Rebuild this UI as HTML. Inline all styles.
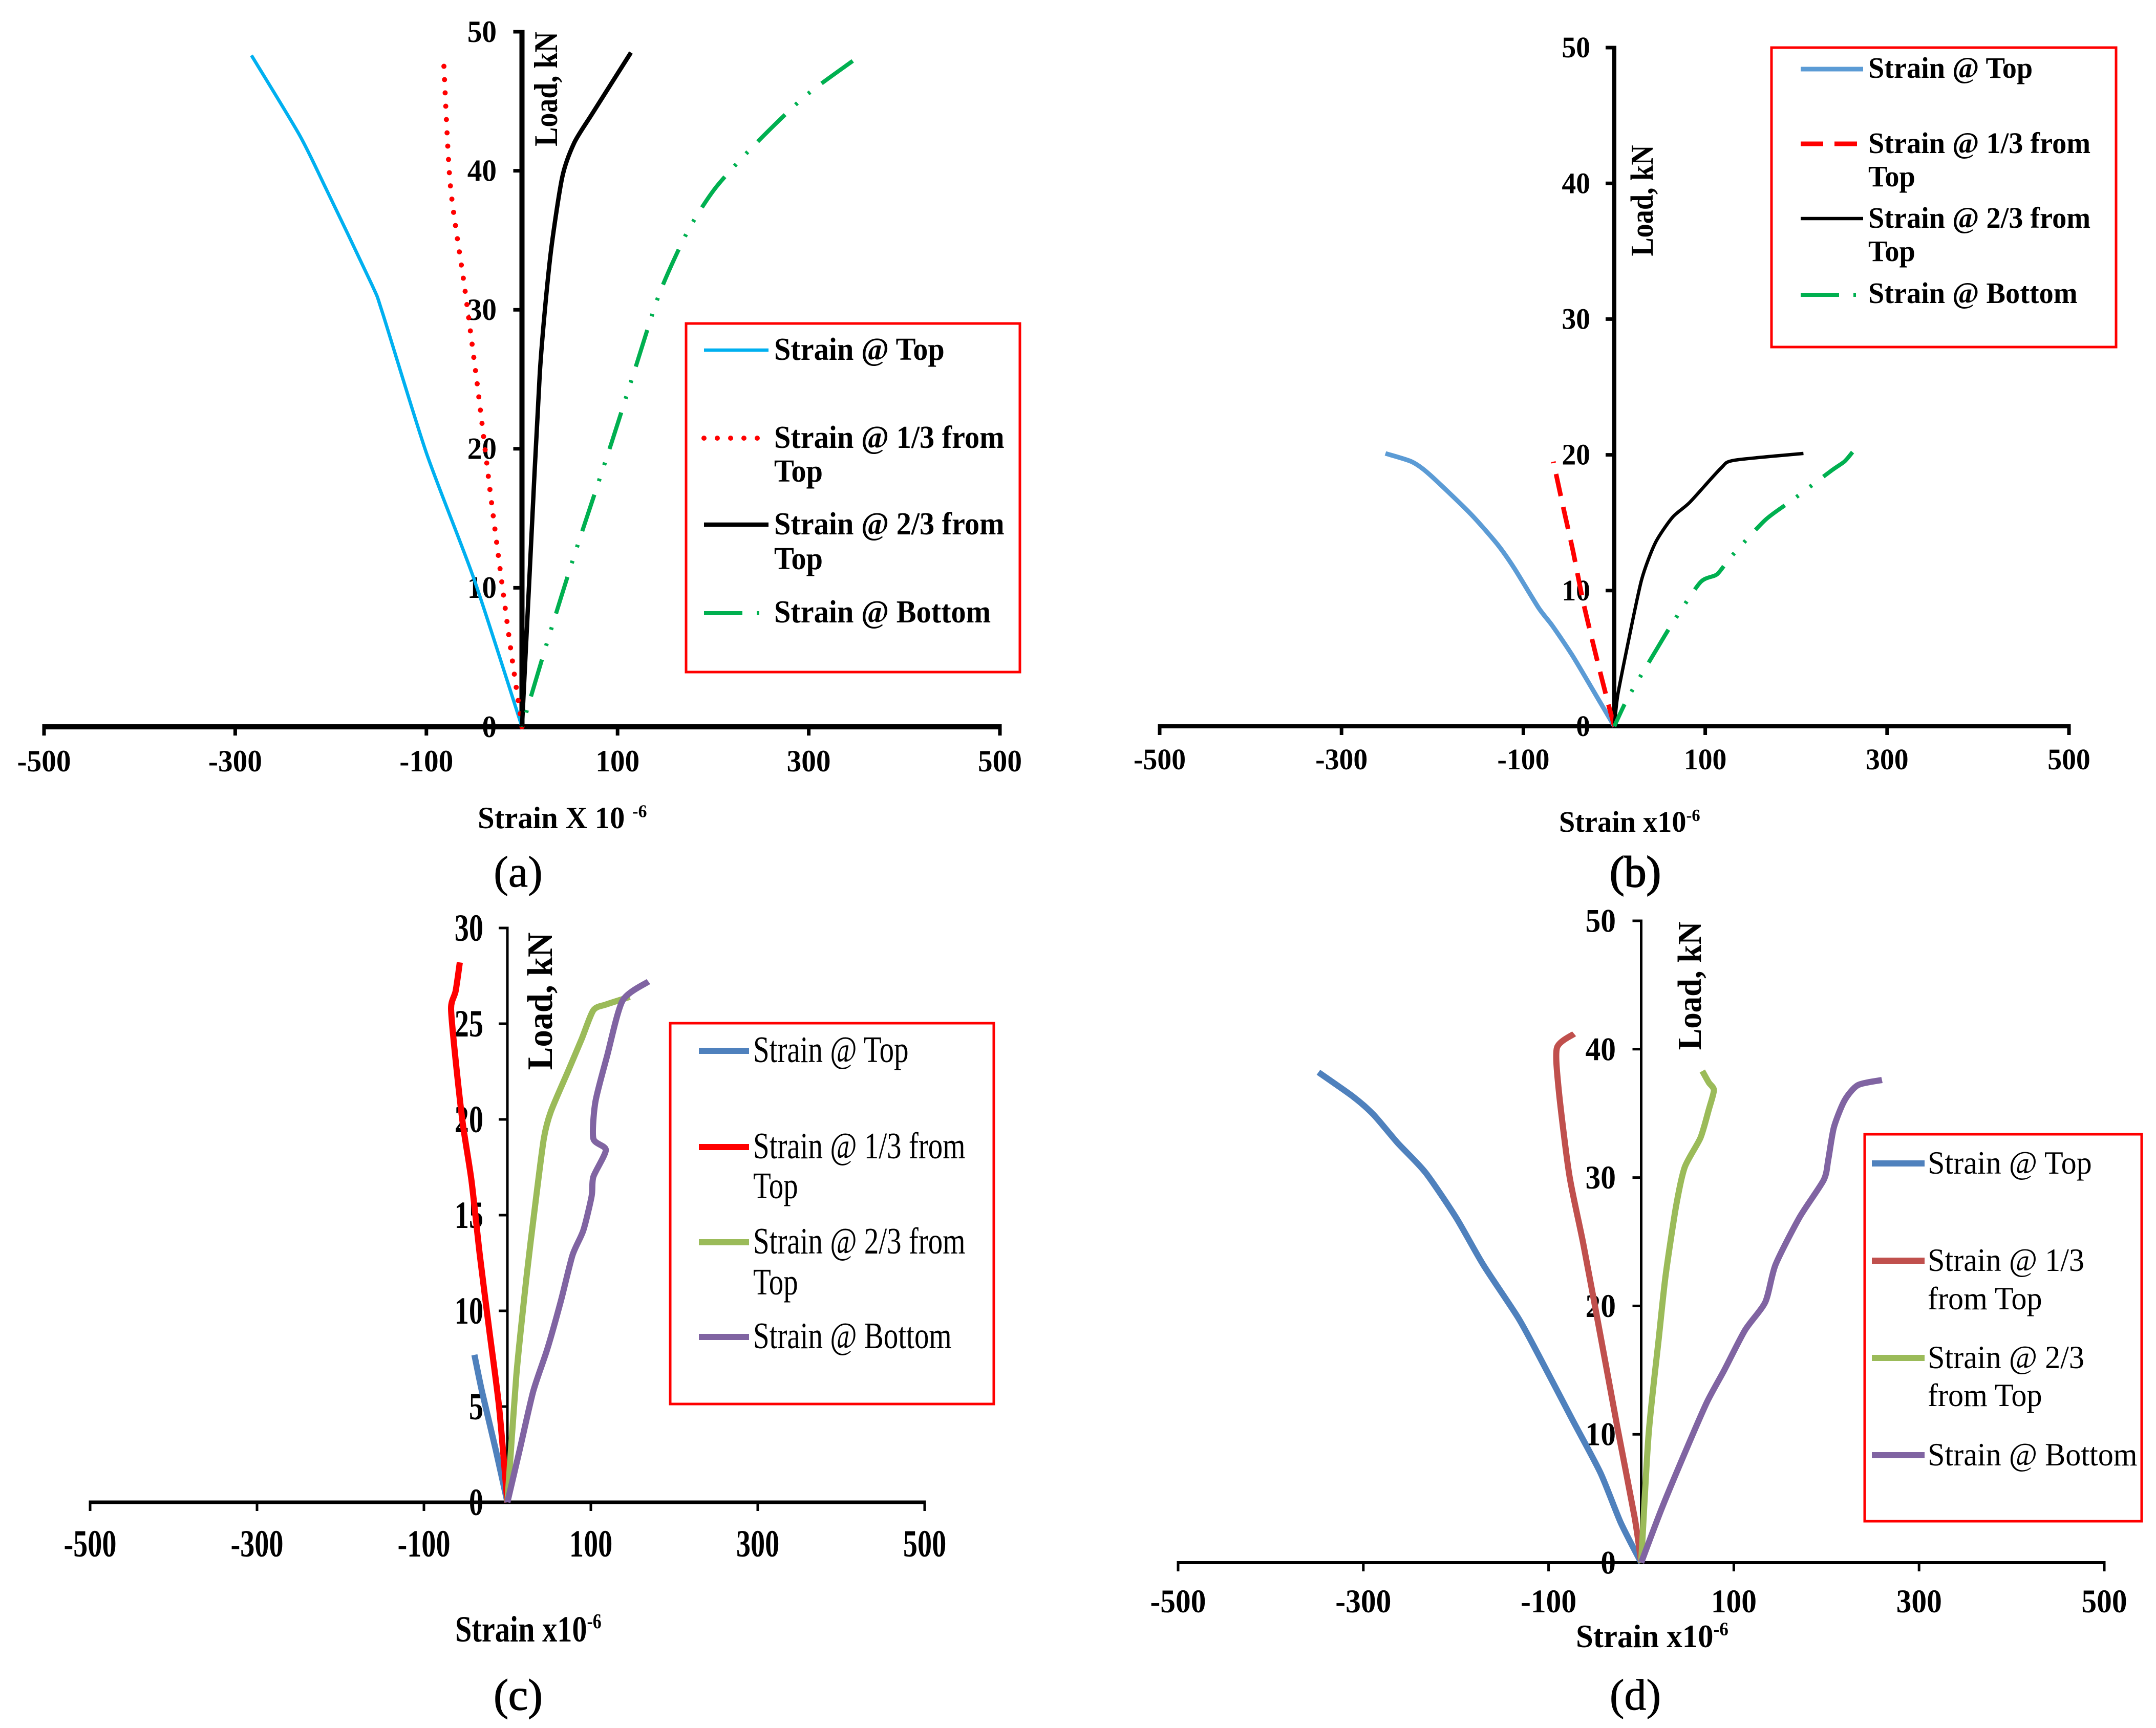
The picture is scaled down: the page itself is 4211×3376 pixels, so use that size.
<!DOCTYPE html>
<html lang="en">
<head>
<meta charset="utf-8">
<title>Load versus strain charts</title>
<style>
html,body{margin:0;padding:0;background:#fff;width:4211px;height:3376px;overflow:hidden}
svg{display:block}
text{font-family:"Liberation Serif",serif;fill:#000}
</style>
</head>
<body>
<svg id="fig" xmlns="http://www.w3.org/2000/svg" width="4211" height="3376" viewBox="0 0 4211 3376">
<rect width="4211" height="3376" fill="#fff"/>
</svg>
<script>
const xTickLabels = [-500, -300, -100, 100, 300, 500];
const yTickLabels50 = [0, 10, 20, 30, 40, 50];
const yTickLabels30 = [0, 5, 10, 15, 20, 25, 30];
const seriesNames = ['top', 'one-third', 'two-thirds', 'bottom'];

const aTopX = [0, -50, -100, -146, -157, -207, -233, -283];
const aTopY = [0, 10.6, 19.7, 29.8, 31.8, 39, 42.6, 48.3];
const aOneThirdX = [0, -13.6, -31.6, -46, -60, -75, -82];
const aOneThirdY = [0, 6.5, 16, 24.2, 31.6, 39, 48];
const aTwoThirdsX = [0, 8, 18.7, 29.4, 42, 54.6, 72.5, 114];
const aTwoThirdsY = [0, 11, 25.5, 33.7, 39.5, 42, 44, 48.5];
const aBottomX = [0, 26, 54.6, 94, 119, 144, 173, 201.7, 241, 295, 346];
const aBottomY = [0, 6, 12.3, 20.5, 25.9, 31.2, 35.6, 38.7, 41.7, 45.3, 47.9];

const bTopX = [0, -15, -45, -68, -83, -109.6, -128.5, -158.7, -204, -223, -251.7];
const bTopY = [0, 1.7, 5.1, 7.4, 8.7, 11.6, 13.4, 15.7, 18.6, 19.5, 20.1];
const bOneThirdX = [0, -6, -19, -34, -45.4, -56.7, -67];
const bOneThirdY = [0, 1.5, 4.9, 9.1, 12.9, 16.3, 19.5];
const bTwoThirdsX = [0, 3.8, 15, 30, 45, 64, 83, 117, 132, 208];
const bTwoThirdsY = [0, 2.3, 6.1, 10.8, 13.5, 15.4, 16.5, 19, 19.6, 20.1];
const bBottomX = [0, 15, 45, 64, 94.5, 113, 128.5, 166, 196.5, 238, 253, 262];
const bBottomY = [0, 2.1, 5.5, 7.6, 10.6, 11.2, 12.5, 15.2, 16.7, 18.8, 19.5, 20.2];

const cTopX = [0, -14, -30.5, -39.5];
const cTopY = [0, 2.75, 5.8, 7.7];
const cOneThirdX = [0, -10, -22, -33, -43, -53.5, -62, -67.5, -62, -57];
const cOneThirdY = [0, 5, 9.1, 12.9, 16.8, 19.8, 23.1, 25.8, 26.7, 28.2];
const cTwoThirdsX = [0, 10.7, 23, 33.8, 43.7, 52, 72.5, 89, 103, 118, 146.6];
const cTwoThirdsY = [0, 6.6, 11.8, 15.7, 19, 20.4, 22.5, 24.2, 25.7, 26, 26.4];
const cBottomX = [0, 14.8, 31, 47.8, 64, 78, 91, 101, 103, 118, 103, 105.4, 119.4, 138, 169];
const cBottomY = [0, 2.75, 5.8, 8, 10.5, 12.9, 14.2, 16, 17, 18.4, 19, 20.9, 23.3, 26.2, 27.2];

const dTopX = [0, -22, -44, -74, -111, -133, -170.5, -200, -233, -263, -289, -311, -348.5];
const dTopY = [0, 3.1, 7, 11.1, 16.2, 19.1, 23.2, 26.9, 30.4, 32.7, 34.9, 36.3, 38.2];
const dOneThirdX = [0, -7, -25.6, -44, -62.7, -77.6, -89, -91, -72.4];
const dOneThirdY = [0, 3.5, 10.5, 17.7, 24.9, 30.2, 36.8, 40.1, 41.2];
const dTwoThirdsX = [0, 8, 19, 26.4, 37.5, 47, 64, 73, 78.5, 73, 66];
const dTwoThirdsY = [0, 10, 17.5, 22.4, 27.7, 30.8, 33.1, 35.3, 36.8, 37.4, 38.3];
const dBottomX = [0, 22.6, 48.6, 71, 89.7, 112, 134, 145, 171, 197, 202, 208, 219.5, 234, 260];
const dBottomY = [0, 4.3, 8.8, 12.5, 15, 18.1, 20.3, 23.2, 26.9, 29.8, 31.4, 33.9, 36, 37.2, 37.6];

const svg = document.getElementById('fig');
const NS = 'http://www.w3.org/2000/svg';

function node(tag, parent, attrs, name) {
  const el = document.createElementNS(NS, tag);
  for (const k in attrs) el.setAttribute(k, attrs[k]);
  
  
  parent.appendChild(el);
  return el;
}

function label(parent, name, str, x, y, size, sx, opts) {
  const o = opts || {};
  const t = node('text', parent, {
    transform: 'translate(' + x + ',' + y + ') ' + (o.rotate ? 'rotate(-90) ' : '') + 'scale(' + sx + ',1)',
    'font-size': size,
    'font-weight': o.weight || 'bold',
    'text-anchor': o.anchor || 'start'
  }, name);
  t.textContent = str;
  return t;
}

function smoothPath(pts) {
  let d = 'M' + pts[0][0].toFixed(1) + ' ' + pts[0][1].toFixed(1);
  const k = 0.12;
  for (let i = 0; i < pts.length - 1; i++) {
    const p0 = pts[Math.max(0, i - 1)], p1 = pts[i], p2 = pts[i + 1], p3 = pts[Math.min(pts.length - 1, i + 2)];
    d += ' C' + (p1[0] + (p2[0] - p0[0]) * k).toFixed(1) + ' ' + (p1[1] + (p2[1] - p0[1]) * k).toFixed(1)
      + ' ' + (p2[0] - (p3[0] - p1[0]) * k).toFixed(1) + ' ' + (p2[1] - (p3[1] - p1[1]) * k).toFixed(1)
      + ' ' + p2[0].toFixed(1) + ' ' + p2[1].toFixed(1);
  }
  return d;
}

function panel(cfg) {
  const g = node('g', svg, {}, 'chart-' + cfg.id);
  const xScale = v => cfg.x0 + (v - (-500)) / 1000 * (cfg.x1 - cfg.x0);
  const yScale = v => cfg.y0 - v / cfg.yMax * (cfg.y0 - cfg.y1);
  const zeroX = xScale(0);

  node('line', g, {x1: xScale(-500) - cfg.yTickW / 2, x2: xScale(500) + cfg.yTickW / 2, y1: cfg.y0, y2: cfg.y0, stroke: '#000', 'stroke-width': cfg.xAxisW}, 'x-axis');
  node('line', g, {x1: zeroX, x2: zeroX, y1: cfg.y0, y2: cfg.y1 - cfg.yTickW / 2, stroke: '#000', 'stroke-width': cfg.yAxisW}, 'y-axis');

  xTickLabels.forEach(v => {
    const px = xScale(v);
    node('line', g, {x1: px, x2: px, y1: cfg.y0, y2: cfg.y0 + 17, stroke: '#000', 'stroke-width': cfg.yTickW}, 'x-tick');
    label(g, 'x-tick-label', String(v), px, cfg.xLabelY, cfg.tickSize, cfg.tickSx, {anchor: 'middle'});
  });
  cfg.yTicks.forEach(v => {
    const py = yScale(v);
    node('line', g, {x1: zeroX - 17, x2: zeroX, y1: py, y2: py, stroke: '#000', 'stroke-width': cfg.yTickW}, 'y-tick');
    label(g, 'y-tick-label', String(v), cfg.yLabelX, py + cfg.tickSize * 0.33, cfg.tickSize, cfg.tickSx, {anchor: 'end'});
  });

  label(g, 'y-axis-title', 'Load, kN', cfg.loadX, cfg.loadY, cfg.loadSize, cfg.loadSx, {rotate: true, anchor: 'middle'});

  const title = label(g, 'x-axis-title', cfg.title, cfg.titleX, cfg.titleY, cfg.titleSize, cfg.titleSx);
  const sup = node('tspan', title, {dy: -cfg.titleSize * 0.36, 'font-size': cfg.titleSize * 0.58}, 'x-axis-title-exponent');
  sup.textContent = '-6';

  cfg.series.forEach((s, i) => {
    const pts = s.xs.map((v, j) => [xScale(v), yScale(s.ys[j])]);
    const p = node('path', g, {
      d: smoothPath(pts), fill: 'none', stroke: s.color, 'stroke-width': s.w,
      'stroke-linejoin': 'round', 'stroke-linecap': s.cap || 'butt',
      'stroke-dasharray': s.dash || 'none'
    }, 'series-' + seriesNames[i]);
    if (s.alignEnd) {
      const period = s.dash.split(' ').reduce((a, b) => a + Number(b), 0);
      const first = Number(s.dash.split(' ')[0]);
      const len = p.getTotalLength();
      p.setAttribute('stroke-dashoffset', ((first - (len % period) + period) % period).toFixed(1));
    }
  });

  const L = cfg.legend;
  node('rect', g, {x: L.x, y: L.y, width: L.w, height: L.h, fill: 'none', stroke: '#ff0000', 'stroke-width': 5}, 'legend-box');
  cfg.series.forEach((s, i) => {
    const e = L.entries[i];
    node('line', g, {
      x1: L.lineX1, x2: L.lineX2, y1: e.y, y2: e.y, stroke: s.color,
      'stroke-width': s.legendW || s.w, 'stroke-linecap': s.cap || 'butt', 'stroke-dasharray': s.dash || 'none'
    }, 'legend-line-' + seriesNames[i]);
    e.lines.forEach(ln => {
      label(g, 'legend-label-' + seriesNames[i], ln[0], L.textX, ln[1], L.size, L.sx, {weight: L.weight});
    });
  });

  const cap = label(g, 'panel-caption', cfg.caption, cfg.capX, cfg.capY, 86, 1, {anchor: 'middle', weight: 'normal'});
  cap.setAttribute('stroke', '#000');
  cap.setAttribute('stroke-width', cfg.capStroke);
}

const dashDotDot = '75 28 5 28 5 28';

panel({
  id: 'a', x0: 86, x1: 1953, y0: 1420, y1: 62, yMax: 50, yTicks: yTickLabels50,
  xAxisW: 10, yAxisW: 10, yTickW: 7, tickSize: 60, tickSx: 0.955, xLabelY: 1507, yLabelX: 970,
  loadX: 1088, loadY: 174, loadSize: 65, loadSx: 0.86,
  title: 'Strain X 10 ', titleX: 933, titleY: 1618, titleSize: 60, titleSx: 0.98,
  caption: '(a)', capX: 1012, capY: 1732, capStroke: 0.8,
  series: [
    {xs: aTopX, ys: aTopY, color: '#00b0f0', w: 6.5},
    {xs: aOneThirdX, ys: aOneThirdY, color: '#ff0000', w: 10, dash: '0 26', cap: 'round', legendW: 10},
    {xs: aTwoThirdsX, ys: aTwoThirdsY, color: '#000000', w: 8.5},
    {xs: aBottomX, ys: aBottomY, color: '#00b050', w: 8, dash: dashDotDot, alignEnd: true}
  ],
  legend: {
    x: 1340, y: 632, w: 652, h: 681, lineX1: 1375, lineX2: 1501, textX: 1512, size: 62, sx: 0.94, weight: 'bold',
    entries: [
      {y: 684, lines: [['Strain @ Top', 703]]},
      {y: 856, lines: [['Strain @ 1/3 from', 875], ['Top', 941]]},
      {y: 1025, lines: [['Strain @ 2/3 from', 1044], ['Top', 1112]]},
      {y: 1198, lines: [['Strain @ Bottom', 1216]]}
    ]
  }
});

panel({
  id: 'b', x0: 2265, x1: 4041, y0: 1419, y1: 93, yMax: 50, yTicks: yTickLabels50,
  xAxisW: 8, yAxisW: 8, yTickW: 7, tickSize: 58, tickSx: 0.96, xLabelY: 1503, yLabelX: 3106,
  loadX: 3228, loadY: 392, loadSize: 62, loadSx: 0.875,
  title: 'Strain x10', titleX: 3045, titleY: 1625, titleSize: 58, titleSx: 0.97,
  caption: '(b)', capX: 3194, capY: 1732, capStroke: 2,
  series: [
    {xs: bTopX, ys: bTopY, color: '#5b9bd5', w: 9},
    {xs: bOneThirdX, ys: bOneThirdY, color: '#ff0000', w: 9, dash: '44 22'},
    {xs: bTwoThirdsX, ys: bTwoThirdsY, color: '#000000', w: 6.5},
    {xs: bBottomX, ys: bBottomY, color: '#00b050', w: 8, dash: dashDotDot, alignEnd: true}
  ],
  legend: {
    x: 3460, y: 93, w: 673, h: 585, lineX1: 3517, lineX2: 3639, textX: 3649, size: 58, sx: 0.97, weight: 'bold',
    entries: [
      {y: 135, lines: [['Strain @ Top', 152]]},
      {y: 281, lines: [['Strain @ 1/3 from', 299], ['Top', 364]]},
      {y: 427, lines: [['Strain @ 2/3 from', 445], ['Top', 510]]},
      {y: 576, lines: [['Strain @ Bottom', 592]]}
    ]
  }
});

panel({
  id: 'c', x0: 176, x1: 1806, y0: 2935, y1: 1813, yMax: 30, yTicks: yTickLabels30,
  xAxisW: 7, yAxisW: 5, yTickW: 5, tickSize: 75, tickSx: 0.75, xLabelY: 3041, yLabelX: 944,
  loadX: 1078, loadY: 1956, loadSize: 70, loadSx: 0.96,
  title: 'Strain x10', titleX: 889, titleY: 3207, titleSize: 72, titleSx: 0.81,
  caption: '(c)', capX: 1012, capY: 3340, capStroke: 1.5,
  series: [
    {xs: cTopX, ys: cTopY, color: '#4f81bd', w: 12},
    {xs: cOneThirdX, ys: cOneThirdY, color: '#ff0000', w: 12},
    {xs: cTwoThirdsX, ys: cTwoThirdsY, color: '#9bbb59', w: 12},
    {xs: cBottomX, ys: cBottomY, color: '#8064a2', w: 12}
  ],
  legend: {
    x: 1309, y: 1999, w: 632, h: 744, lineX1: 1365, lineX2: 1463, textX: 1471, size: 73, sx: 0.78, weight: 'normal',
    entries: [
      {y: 2053, lines: [['Strain @ Top', 2075]]},
      {y: 2241, lines: [['Strain @ 1/3 from', 2263], ['Top', 2341]]},
      {y: 2427, lines: [['Strain @ 2/3 from', 2449], ['Top', 2529]]},
      {y: 2612, lines: [['Strain @ Bottom', 2634]]}
    ]
  }
});

panel({
  id: 'd', x0: 2301, x1: 4110, y0: 3053, y1: 1799, yMax: 50, yTicks: yTickLabels50,
  xAxisW: 6, yAxisW: 5, yTickW: 5, tickSize: 65, tickSx: 0.915, xLabelY: 3150, yLabelX: 3156,
  loadX: 3322, loadY: 1926, loadSize: 66, loadSx: 0.95,
  title: 'Strain x10', titleX: 3078, titleY: 3218, titleSize: 64, titleSx: 0.95,
  caption: '(d)', capX: 3194, capY: 3340, capStroke: 0.8,
  series: [
    {xs: dTopX, ys: dTopY, color: '#4f81bd', w: 12},
    {xs: dOneThirdX, ys: dOneThirdY, color: '#c0504d', w: 12},
    {xs: dTwoThirdsX, ys: dTwoThirdsY, color: '#9bbb59', w: 12},
    {xs: dBottomX, ys: dBottomY, color: '#8064a2', w: 12}
  ],
  legend: {
    x: 3642, y: 2216, w: 541, h: 756, lineX1: 3656, lineX2: 3759, textX: 3765, size: 64, sx: 0.94, weight: 'normal',
    entries: [
      {y: 2273, lines: [['Strain @ Top', 2293]]},
      {y: 2463, lines: [['Strain @ 1/3', 2483], ['from Top', 2558]]},
      {y: 2653, lines: [['Strain @ 2/3', 2673], ['from Top', 2747]]},
      {y: 2843, lines: [['Strain @ Bottom', 2863]]}
    ]
  }
});
</script>
</body>
</html>
